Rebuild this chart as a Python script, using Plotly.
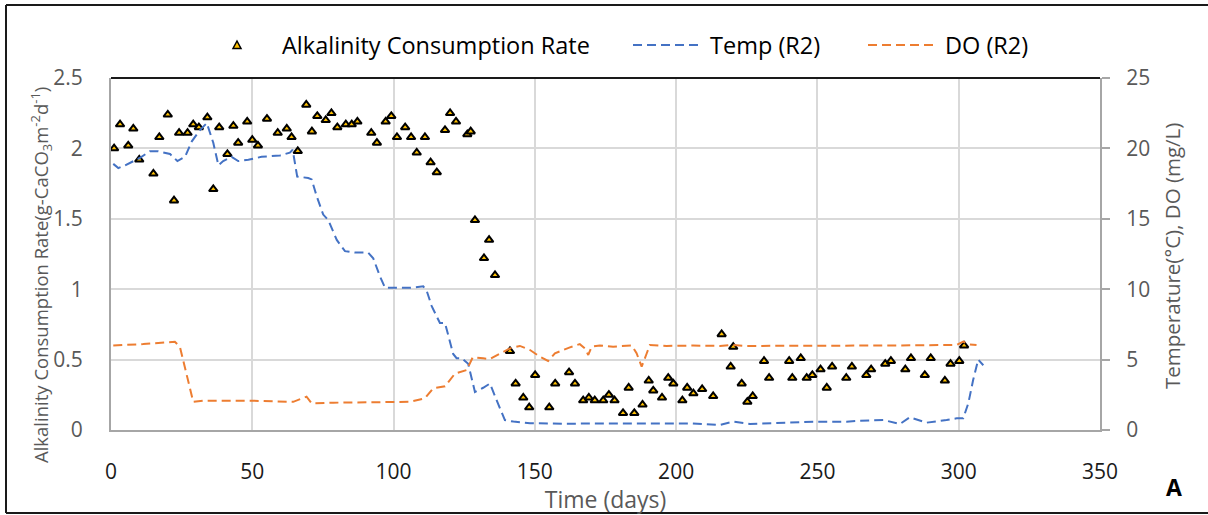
import plotly.graph_objects as go

# Alkalinity consumption rate (g-CaCO3 m-2 d-1) by day
alk_days = [1.1, 3.2, 6.1, 7.9, 10.0, 15.0, 17.1, 20.1, 22.3, 24.1, 27.1, 29.1, 31.1, 34.1,
            36.2, 38.3, 41.2, 43.3, 45.0, 48.2, 50.0, 52.0, 55.2, 59.0, 62.2, 63.9, 66.1,
            69.1, 71.1, 73.0, 76.0, 78.0, 80.1, 83.1, 85.2, 87.2, 92.1, 94.1, 97.2, 99.2,
            101.2, 104.1, 106.2, 108.2, 111.1, 113.1, 115.3, 118.2, 120.0, 122.1, 126.1,
            127.3, 128.8, 132.0, 133.8, 135.9, 141.2, 143.2, 145.9, 148.0, 150.1, 155.1,
            157.2, 162.1, 164.2, 167.1, 169.1, 171.2, 174.2, 176.2, 178.2, 181.2, 183.2,
            185.2, 188.1, 190.3, 191.9, 195.0, 197.2, 199.0, 202.2, 203.9, 206.1, 209.2,
            213.1, 216.1, 219.3, 220.2, 223.2, 225.2, 227.1, 231.1, 232.9, 240.0, 241.1,
            244.1, 246.2, 248.2, 251.1, 253.3, 255.2, 260.2, 262.2, 267.3, 269.0, 274.0,
            276.0, 281.1, 283.1, 288.0, 290.1, 295.1, 297.1, 300.2, 301.9]
alk_rate = [2.00, 2.17, 2.02, 2.14, 1.92, 1.82, 2.08, 2.24, 1.63, 2.11, 2.11, 2.17, 2.15, 2.22,
            1.71, 2.15, 1.96, 2.16, 2.04, 2.19, 2.06, 2.02, 2.21, 2.11, 2.14, 2.08, 1.98,
            2.31, 2.12, 2.23, 2.20, 2.25, 2.15, 2.17, 2.17, 2.19, 2.11, 2.04, 2.19, 2.23,
            2.08, 2.15, 2.08, 1.97, 2.08, 1.90, 1.83, 2.13, 2.25, 2.19, 2.10,
            2.12, 1.49, 1.22, 1.35, 1.10, 0.56, 0.33, 0.23, 0.16, 0.39, 0.16,
            0.33, 0.41, 0.33, 0.21, 0.23, 0.21, 0.21, 0.25, 0.21, 0.12, 0.30,
            0.12, 0.18, 0.35, 0.28, 0.23, 0.37, 0.33, 0.21, 0.30, 0.26, 0.29,
            0.24, 0.68, 0.45, 0.59, 0.33, 0.20, 0.24, 0.49, 0.37, 0.49, 0.37,
            0.51, 0.37, 0.39, 0.43, 0.30, 0.45, 0.37, 0.45, 0.39, 0.43, 0.47,
            0.49, 0.43, 0.51, 0.39, 0.51, 0.35, 0.47, 0.49, 0.60]

# Reactor R2 temperature (°C)
temp_days = [0.8, 2.6, 5.0, 10.0, 13.8, 16.7, 20.9, 23.5, 26.2, 28.6, 31.5, 33.9, 36.2, 38.0,
             39.7, 42.7, 45.0, 48.6, 53.3, 59.8, 63.3, 64.3, 65.9, 69.8, 71.0, 72.8, 75.1,
             76.9, 79.9, 82.8, 86.3, 91.0, 92.8, 95.2, 97.0, 101.1, 105.8, 110.5, 111.7,
             113.5, 116.4, 118.2, 121.1, 122.3, 124.1, 126.4, 128.8, 131.7, 134.1, 136.5,
             139.4, 142.4, 148.3, 160.0, 175.0, 190.0, 205.0, 215.5, 220.2, 226.1, 240.3,
             248.5, 260.3, 265.0, 273.3, 279.2, 282.7, 288.6, 295.7, 299.3, 301.6, 303.4,
             305.1, 306.9, 308.7]
temp_vals = [18.9, 18.6, 18.8, 19.3, 19.8, 19.8, 19.6, 19.1, 19.4, 20.5, 21.3, 21.8, 20.4, 18.8,
             19.1, 19.4, 19.1, 19.2, 19.4, 19.5, 19.7, 19.9, 18.0, 17.9, 17.8, 16.6, 15.3,
             14.9, 13.5, 12.7, 12.6, 12.6, 12.2, 10.9, 10.1, 10.1, 10.1, 10.2, 9.9,
             8.8, 7.6, 7.6, 5.4, 5.1, 5.1, 4.7, 2.7, 3.0, 3.3, 2.1,
             0.7, 0.6, 0.48, 0.45, 0.45, 0.45, 0.47, 0.36, 0.59, 0.43, 0.52,
             0.59, 0.59, 0.66, 0.71, 0.43, 0.90, 0.52, 0.71, 0.83, 0.83, 1.9,
             3.55, 5.0, 4.6]

# Reactor R2 dissolved oxygen (mg/L)
do_days = [0.8, 11.4, 22.6, 24.4, 29.1, 32.7, 49.2, 64.5, 69.2, 71.0, 78.7, 105.8, 111.1,
           114.0, 118.2, 121.7, 125.9, 128.0, 131.7, 134.1, 141.2, 144.7, 148.3, 151.8,
           154.7, 157.1, 162.4, 165.9, 167.7, 168.9, 170.1, 173.0, 177.7, 184.3, 186.0,
           187.8, 189.6, 190.7, 196.6, 206.0, 215.5, 220.2, 224.9, 258.0, 274.5, 299.3,
           301.6, 303.4, 306.3]
do_vals = [6.0, 6.1, 6.27, 5.9, 2.0, 2.08, 2.08, 2.0, 2.37, 1.9, 1.94, 2.0, 2.25,
           2.96, 3.1, 4.0, 4.26, 5.16, 5.09, 5.04, 5.8, 5.97, 5.68, 5.2,
           4.9, 5.45, 5.87, 6.1, 5.8, 5.33, 5.92, 6.0, 5.92, 6.0, 5.45,
           4.5, 5.45, 6.04, 5.97, 6.0, 5.97, 6.04, 5.97, 5.97, 6.0, 6.04,
           6.27, 6.09, 6.04]

x_ticks = [0, 50, 100, 150, 200, 250, 300, 350]

FONT = "Open Sans"
GREY = "#595959"
AXIS_GREY = "#a6a6a6"
GRID = "#d9d9d9"
GOLD = "#FFC000"
BLUE = "#4472C4"
ORANGE = "#ED7D31"
DASH = "9px,5px"

W, H = 1208, 515
ML, MR, MT, MB = 111, 108, 78, 85
PW, PH = W - ML - MR, H - MT - MB


def px(x):
    """pixel column -> paper x"""
    return (x - ML) / PW


def py(y):
    """pixel row -> paper y"""
    return (H - MB - y) / PH


fig = go.Figure()

fig.add_trace(go.Scatter(
    x=alk_days, y=alk_rate, mode="markers", name="Alkalinity Consumption Rate",
    marker=dict(symbol="triangle-up", size=7.5, color=GOLD,
                line=dict(color="black", width=2)),
    yaxis="y",
))
fig.add_trace(go.Scatter(
    x=temp_days, y=temp_vals, mode="lines", name="Temp (R2)",
    line=dict(color=BLUE, width=2, dash=DASH),
    yaxis="y2",
))
fig.add_trace(go.Scatter(
    x=do_days, y=do_vals, mode="lines", name="DO (R2)",
    line=dict(color=ORANGE, width=2, dash=DASH),
    yaxis="y2",
))

fig.update_layout(
    width=W, height=H,
    margin=dict(l=ML, r=MR, t=MT, b=MB, autoexpand=False),
    paper_bgcolor="white", plot_bgcolor="white",
    font=dict(family=FONT, color=GREY, size=20),
    showlegend=False,
    xaxis=dict(
        range=[0, 350], tickvals=x_ticks, showgrid=True, gridcolor=GRID, gridwidth=2,
        showline=True, linecolor=AXIS_GREY, linewidth=2, zeroline=False,
        ticks="", ticklabelstandoff=22, automargin=False,
        tickfont=dict(family=FONT, size=21, color="#1a1a1a"),
        title=dict(text="Time (days)", font=dict(family=FONT, size=23, color=GREY), standoff=6),
    ),
    yaxis=dict(
        range=[0, 2.5], dtick=0.5, showgrid=True, gridcolor=GRID, gridwidth=2,
        showline=True, linecolor=AXIS_GREY, linewidth=2, zeroline=False,
        ticks="", ticklabelstandoff=22, automargin=False,
        tickfont=dict(family=FONT, size=21, color=GREY),
    ),
    yaxis2=dict(
        range=[0, 25], dtick=5, overlaying="y", side="right", showgrid=False,
        showline=True, linecolor=AXIS_GREY, linewidth=2, zeroline=False,
        ticks="outside", ticklen=8, tickwidth=2, tickcolor=AXIS_GREY, ticklabelstandoff=12,
        automargin=False,
        tickfont=dict(family=FONT, size=21, color=GREY),
    ),
)

# vertical axis titles
fig.add_annotation(
    text="Alkalinity Consumption Rate(g-CaCO<sub>3</sub>m<sup>-2</sup>d<sup>-1</sup>)",
    xref="paper", yref="paper", x=px(41), y=py(275), textangle=-90,
    xanchor="center", yanchor="middle", showarrow=False,
    font=dict(family=FONT, size=18.5, color=GREY))
fig.add_annotation(
    text="Temperature(°C), DO (mg/L)",
    xref="paper", yref="paper", x=px(1172), y=py(256), textangle=-90,
    xanchor="center", yanchor="middle", showarrow=False,
    font=dict(family=FONT, size=20.5, color=GREY))

# legend row above the plot area
LEG_Y = 45
leg_font = dict(family=FONT, size=23.5, color="black")
tri = "M {:.5f},{:.5f} L {:.5f},{:.5f} L {:.5f},{:.5f} Z".format(
    px(233), py(LEG_Y + 3.5), px(241), py(LEG_Y + 3.5), px(237), py(LEG_Y - 4))
fig.add_shape(type="path", xref="paper", yref="paper", path=tri,
              fillcolor=GOLD, line=dict(color="black", width=1.5))
fig.add_annotation(text="Alkalinity Consumption Rate", xref="paper", yref="paper",
                   x=px(280), y=py(LEG_Y), xanchor="left", yanchor="middle",
                   showarrow=False, font=leg_font)
for x0, x1, tx, name, col in [(633, 700, 708, "Temp (R2)", BLUE),
                              (868, 935, 943, "DO (R2)", ORANGE)]:
    fig.add_shape(type="line", xref="paper", yref="paper",
                  x0=px(x0), x1=px(x1), y0=py(LEG_Y), y1=py(LEG_Y),
                  line=dict(color=col, width=2, dash=DASH))
    fig.add_annotation(text=name, xref="paper", yref="paper",
                       x=px(tx), y=py(LEG_Y), xanchor="left", yanchor="middle",
                       showarrow=False, font=leg_font)

# plot-area top edge and outer chart border
fig.add_shape(type="line", xref="paper", yref="paper", x0=0, x1=1, y0=1, y1=1,
              line=dict(color="#1a1a1a", width=2))
border = dict(color="#1a1a1a", width=2)
fig.add_shape(type="line", xref="paper", yref="paper", x0=px(6), x1=px(6), y0=py(513), y1=py(5), line=border)
fig.add_shape(type="line", xref="paper", yref="paper", x0=px(6), x1=px(W), y0=py(5), y1=py(5), line=border)
fig.add_shape(type="line", xref="paper", yref="paper", x0=px(6), x1=px(W), y0=py(513), y1=py(513), line=border)

fig.add_annotation(text="<b>A</b>", xref="paper", yref="paper",
                   x=px(1184), y=py(487), showarrow=False, yanchor="middle",
                   font=dict(family=FONT, size=23, color="black"))

fig.write_html("out.html")
